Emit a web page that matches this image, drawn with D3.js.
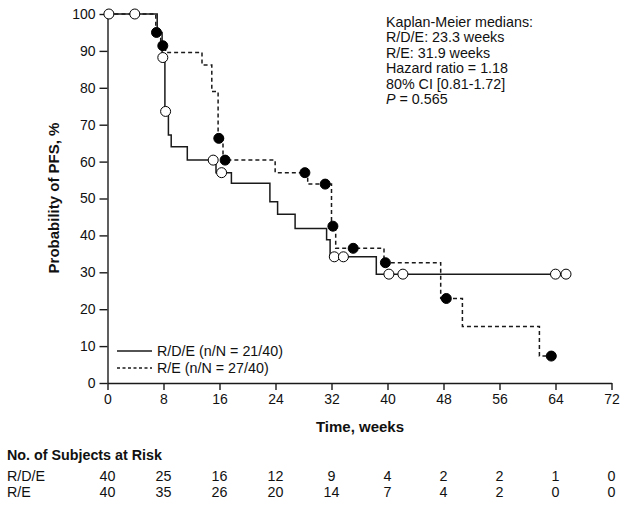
<!DOCTYPE html>
<html><head><meta charset="utf-8">
<script src="https://cdn.jsdelivr.net/npm/d3@7"></script>
<style>
body{margin:0;background:#fff;}
svg text{font-family:"Liberation Sans",Arial,sans-serif;fill:#111;}
</style></head>
<body><svg id="c" width="629" height="505"></svg>
<script>
// R/D/E (solid) Kaplan-Meier steps
const rdeTimes = [0, 7.1, 7.8, 8.2, 8.7, 9.1, 11.4, 15.5, 17.7, 23.2, 24.3, 26.8, 31.3, 31.8, 38.4];
const rdeSurv  = [100, 95, 88.2, 73.6, 67.2, 64, 60.4, 57, 54.1, 49.1, 45.7, 41.9, 38.8, 34.2, 29.5];
const rdeEnd = 65.5;
const rdeCensor = [0.2, 3.9, 7.9, 8.3, 15.1, 16.3, 32.4, 33.7, 40.2, 42.2, 64.0, 65.5];
// R/E (dashed) Kaplan-Meier steps
const reTimes = [0, 6.9, 7.6, 8.3, 13.5, 14.9, 15.8, 16.5, 23.95, 28.6, 32.0, 32.6, 39.5, 47.6, 50.7, 61.7];
const reSurv  = [100, 95, 91.4, 89.6, 86.2, 79, 66.3, 60.4, 57, 53.9, 42.5, 36.5, 32.6, 22.9, 15.3, 7.3];
const reEnd = 63.4;
const reCensor = [7.0, 7.9, 15.9, 16.8, 28.2, 31.1, 32.2, 35.1, 39.7, 48.4, 63.4];
// axes
const xTicks = [0, 8, 16, 24, 32, 40, 48, 56, 64, 72];
const yTicks = [0, 10, 20, 30, 40, 50, 60, 70, 80, 90, 100];
// risk table
const riskRows = ["R/D/E", "R/E"];
const riskRDE = [40, 25, 16, 12, 9, 4, 2, 2, 1, 0];
const riskRE  = [40, 35, 26, 20, 14, 7, 4, 2, 0, 0];
const notes = ["Kaplan-Meier medians:", "R/D/E: 23.3 weeks", "R/E: 31.9 weeks", "Hazard ratio = 1.18", "80% CI [0.81-1.72]"];
const legendLabels = ["R/D/E (n/N = 21/40)", "R/E (n/N = 27/40)"];

const svg = d3.select("#c");
const x = d3.scaleLinear().domain([0, 72]).range([107.5, 611.5]);
const y = d3.scaleLinear().domain([0, 100]).range([383, 14]);
const ink = "#1a1a1a";
const fs = "14.3px";

// axes
const gx = svg.append("g").attr("transform", "translate(0,383)")
  .call(d3.axisBottom(x).tickValues(xTicks).tickSize(7).tickSizeOuter(0).tickPadding(4));
const gy = svg.append("g").attr("transform", "translate(107.5,0)")
  .call(d3.axisLeft(y).tickValues(yTicks).tickSize(8).tickSizeOuter(0).tickPadding(4));
[gx, gy].forEach(g => {
  g.selectAll("path,line").attr("stroke", ink).attr("stroke-width", 1.4);
  g.selectAll("text").style("font-size", "14px").attr("fill", "#111");
});

function stepPts(ts, ss, end) {
  const p = ts.map((t, i) => [t, ss[i]]);
  p.push([end, ss[ss.length - 1]]);
  return p;
}
function survAt(ts, ss, t) {
  const i = d3.bisectRight(ts, t) - 1;
  return ss[Math.max(0, i)];
}
const line = d3.line().x(d => x(d[0])).y(d => y(d[1])).curve(d3.curveStepAfter);

svg.append("path").datum(stepPts(reTimes, reSurv, reEnd)).attr("d", line)
  .attr("fill", "none").attr("stroke", ink).attr("stroke-width", 1.5).attr("stroke-dasharray", "4,3");
svg.append("path").datum(stepPts(rdeTimes, rdeSurv, rdeEnd)).attr("d", line)
  .attr("fill", "none").attr("stroke", ink).attr("stroke-width", 1.5);

svg.selectAll("circle.re").data(reCensor).join("circle").attr("class", "re")
  .attr("cx", d => x(d)).attr("cy", d => y(survAt(reTimes, reSurv, d))).attr("r", 5)
  .attr("fill", "#000").attr("stroke", "#000");
svg.selectAll("circle.rde").data(rdeCensor).join("circle").attr("class", "rde")
  .attr("cx", d => x(d)).attr("cy", d => y(survAt(rdeTimes, rdeSurv, d))).attr("r", 5)
  .attr("fill", "#fff").attr("stroke", "#000").attr("stroke-width", 1);

// axis titles
svg.append("text").attr("x", 360).attr("y", 432).attr("text-anchor", "middle")
  .style("font-size", "15px").style("font-weight", "bold").text("Time, weeks");
svg.append("text").attr("transform", "translate(59,198) rotate(-90)").attr("text-anchor", "middle")
  .style("font-size", "15px").style("font-weight", "bold").text("Probability of PFS, %");

// notes
const nt = svg.append("g");
notes.forEach((s, i) => nt.append("text").attr("x", 386).attr("y", 26.5 + i * 15.5)
  .style("font-size", fs).text(s));
const pt = nt.append("text").attr("x", 386).attr("y", 26.5 + 5 * 15.5).style("font-size", fs);
pt.append("tspan").style("font-style", "italic").text("P");
pt.append("tspan").text(" = 0.565");

// legend
const lg = svg.append("g");
legendLabels.forEach((s, i) => {
  const yy = 351 + i * 17;
  lg.append("line").attr("x1", 117).attr("x2", 152).attr("y1", yy).attr("y2", yy)
    .attr("stroke", ink).attr("stroke-width", 1.3).attr("stroke-dasharray", i ? "3,2.5" : null);
  lg.append("text").attr("x", 157).attr("y", yy + 5).style("font-size", fs).text(s);
});

// risk table
svg.append("text").attr("x", 7).attr("y", 460).style("font-size", fs)
  .style("font-weight", "bold").text("No. of Subjects at Risk");
[riskRDE, riskRE].forEach((row, r) => {
  const yy = 481 + r * 16;
  svg.append("text").attr("x", 7).attr("y", yy).style("font-size", fs).text(riskRows[r]);
  svg.selectAll("text.r" + r).data(row).join("text").attr("class", "r" + r)
    .attr("x", (d, i) => x(xTicks[i])).attr("y", yy).attr("text-anchor", "middle")
    .style("font-size", fs).text(d => d);
});
</script></body></html>
